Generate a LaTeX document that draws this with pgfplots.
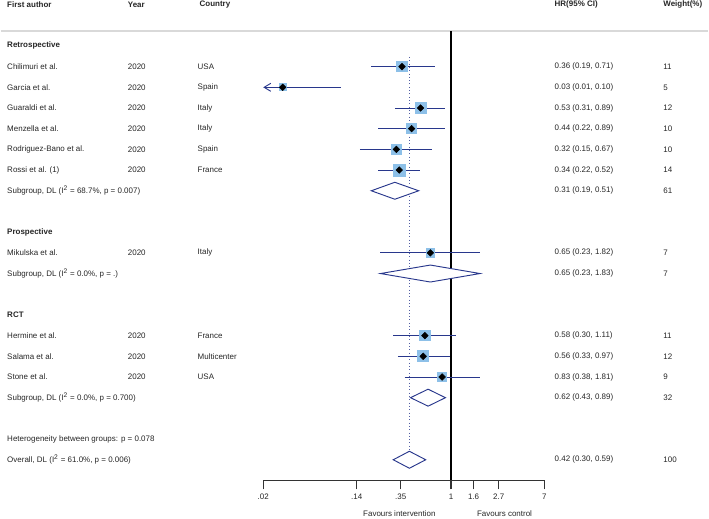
\documentclass[border=0pt]{standalone}
\usepackage{pgfplots}
\pgfplotsset{compat=1.18}
\usepackage{pgfplotstable}
\usepackage{fontspec}
\setmainfont{Liberation Sans}
\usetikzlibrary{arrows.meta}
\definecolor{navy}{RGB}{40,55,140}
\definecolor{sqblue}{RGB}{141,192,232}
\newcommand{\tf}{\fontsize{6}{7.2}\selectfont}
\newcommand{\T}[3]{\node[anchor=west,inner sep=0pt,font=\tf,text=black!85] at ({rel axis cs:#1,0}|-{axis cs:1,#2}) {#3};}

% study rows: y = row index (bottom = 1), hr, lower, upper, weight
\pgfplotstableread{
y  hr   lo   hi   w
20 0.36 0.19 0.71 11
19 0.03 0.01 0.10 5
18 0.53 0.31 0.89 12
17 0.44 0.22 0.89 10
16 0.32 0.15 0.67 10
15 0.34 0.22 0.52 14
11 0.65 0.23 1.82 7
7  0.58 0.30 1.11 11
6  0.56 0.33 0.97 12
5  0.83 0.38 1.81 9
}\studies

\begin{document}
\begin{tikzpicture}
\begin{axis}[
  scale only axis, width=211.5pt, height=361.05pt,
  xmode=log, xmin=0.02, xmax=7,
  ymin=0, ymax=23.2,
  axis x line*=bottom, axis y line=none,
  x axis line style={-, line width=0.9pt, black!80},
  xtick={0.02,0.14,0.35,1,1.6,2.7,7},
  xticklabels={{.02},{.14},{.35},{1},{1.6},{2.7},{7}},
  minor xtick={},
  tick align=outside, major tick length=6.75pt,
  tick style={line width=0.9pt, black!80},
  xticklabel style={font=\tf, text=black!85},
  /pgf/number format/assume math mode=true,
  clip=false,
]
% bounding box
\path ({rel axis cs:-0.9326,0}|-{axis cs:1,23.22}) rectangle ({rel axis cs:1.5816,0}|-{axis cs:1,-1.843});
% header rule
\draw[black!15, line width=1.5pt] ({rel axis cs:-0.9326,0}|-{axis cs:1,21.74}) -- ({rel axis cs:1.5816,0}|-{axis cs:1,21.74});

% null line and overall effect line
\addplot[black, line width=0.9pt] coordinates {(1,21.7) (1,0)};
\addplot[navy!80, dotted, line width=0.5pt] coordinates {(0.42,20.47) (0.42,0.57)};

% confidence intervals
\addplot[navy, line width=0.7pt] coordinates {(0.19,20) (0.71,20)};
\addplot[navy, line width=0.7pt, -{Straight Barb[length=5pt,width=6pt]}] coordinates {(0.10,19) (0.02,19)};
\addplot[navy, line width=0.7pt] coordinates {(0.31,18) (0.89,18)};
\addplot[navy, line width=0.7pt] coordinates {(0.22,17) (0.89,17)};
\addplot[navy, line width=0.7pt] coordinates {(0.15,16) (0.67,16)};
\addplot[navy, line width=0.7pt] coordinates {(0.22,15) (0.52,15)};
\addplot[navy, line width=0.7pt] coordinates {(0.23,11) (1.82,11)};
\addplot[navy, line width=0.7pt] coordinates {(0.30,7) (1.11,7)};
\addplot[navy, line width=0.7pt] coordinates {(0.33,6) (0.97,6)};
\addplot[navy, line width=0.7pt] coordinates {(0.38,5) (1.81,5)};

% weight squares (side proportional to sqrt(weight))
\pgfplotsset{sq/.style={only marks, mark=square*, mark options={draw=sqblue, fill=sqblue, line width=0pt}}}
\addplot[sq, mark size=3.98pt] coordinates {(0.36,20)};
\addplot[sq, mark size=2.68pt] coordinates {(0.03,19)};
\addplot[sq, mark size=4.16pt] coordinates {(0.53,18)};
\addplot[sq, mark size=3.79pt] coordinates {(0.44,17)};
\addplot[sq, mark size=3.79pt] coordinates {(0.32,16)};
\addplot[sq, mark size=4.49pt] coordinates {(0.34,15)};
\addplot[sq, mark size=3.17pt] coordinates {(0.65,11)};
\addplot[sq, mark size=3.98pt] coordinates {(0.58,7)};
\addplot[sq, mark size=4.16pt] coordinates {(0.56,6)};
\addplot[sq, mark size=3.60pt] coordinates {(0.83,5)};
% point estimates
\addplot[only marks, mark=square*, mark size=1.75pt, mark options={rotate=45, draw=black, fill=black}] table[x=hr, y=y] {\studies};

% pooled diamonds
\addplot[navy, line width=0.7pt, fill=white] coordinates {(0.19,14) (0.31,14.41) (0.51,14) (0.31,13.59)} -- cycle;
\addplot[navy, line width=0.7pt, fill=white] coordinates {(0.23,10) (0.65,10.41) (1.83,10) (0.65,9.59)} -- cycle;
\addplot[navy, line width=0.7pt, fill=white] coordinates {(0.43,4) (0.62,4.41) (0.89,4) (0.62,3.59)} -- cycle;
\addplot[navy, line width=0.7pt, fill=white] coordinates {(0.30,1) (0.42,1.41) (0.59,1) (0.42,0.59)} -- cycle;

% headers
\T{-0.9113}{23}{\bfseries First author}
\T{-0.4823}{23}{\bfseries Year}
\T{-0.2270}{23}{\bfseries Country}
\T{1.0355}{23}{\bfseries HR(95\% CI)}
\T{1.4220}{23}{\bfseries Weight(\%)}

% group labels
\T{-0.9113}{21}{\bfseries Retrospective}
\T{-0.9113}{12}{\bfseries Prospective}
\T{-0.9113}{8}{\bfseries RCT}

% study rows
\T{-0.9113}{20}{Chilimuri et al.}      \T{-0.4823}{20}{2020} \T{-0.2340}{20}{USA}         \T{1.0355}{20}{0.36 (0.19, 0.71)} \T{1.4220}{20}{11}
\T{-0.9113}{19}{Garcia et al.}         \T{-0.4823}{19}{2020} \T{-0.2340}{19}{Spain}       \T{1.0355}{19}{0.03 (0.01, 0.10)} \T{1.4220}{19}{5}
\T{-0.9113}{18}{Guaraldi et al.}       \T{-0.4823}{18}{2020} \T{-0.2340}{18}{Italy}       \T{1.0355}{18}{0.53 (0.31, 0.89)} \T{1.4220}{18}{12}
\T{-0.9113}{17}{Menzella et al.}       \T{-0.4823}{17}{2020} \T{-0.2340}{17}{Italy}       \T{1.0355}{17}{0.44 (0.22, 0.89)} \T{1.4220}{17}{10}
\T{-0.9113}{16}{Rodriguez-Bano et al.} \T{-0.4823}{16}{2020} \T{-0.2340}{16}{Spain}       \T{1.0355}{16}{0.32 (0.15, 0.67)} \T{1.4220}{16}{10}
\T{-0.9113}{15}{Rossi et al. (1)}      \T{-0.4823}{15}{2020} \T{-0.2340}{15}{France}      \T{1.0355}{15}{0.34 (0.22, 0.52)} \T{1.4220}{15}{14}
\T{-0.9113}{14}{Subgroup, DL (I\textsuperscript{2} = 68.7\%, p = 0.007)} \T{1.0355}{14}{0.31 (0.19, 0.51)} \T{1.4220}{14}{61}

\T{-0.9113}{11}{Mikulska et al.}       \T{-0.4823}{11}{2020} \T{-0.2340}{11}{Italy}       \T{1.0355}{11}{0.65 (0.23, 1.82)} \T{1.4220}{11}{7}
\T{-0.9113}{10}{Subgroup, DL (I\textsuperscript{2} = 0.0\%, p = .)} \T{1.0355}{10}{0.65 (0.23, 1.83)} \T{1.4220}{10}{7}

\T{-0.9113}{7}{Hermine et al.}         \T{-0.4823}{7}{2020}  \T{-0.2340}{7}{France}       \T{1.0355}{7}{0.58 (0.30, 1.11)}  \T{1.4220}{7}{11}
\T{-0.9113}{6}{Salama et al.}          \T{-0.4823}{6}{2020}  \T{-0.2340}{6}{Multicenter}  \T{1.0355}{6}{0.56 (0.33, 0.97)}  \T{1.4220}{6}{12}
\T{-0.9113}{5}{Stone et al.}           \T{-0.4823}{5}{2020}  \T{-0.2340}{5}{USA}          \T{1.0355}{5}{0.83 (0.38, 1.81)}  \T{1.4220}{5}{9}
\T{-0.9113}{4}{Subgroup, DL (I\textsuperscript{2} = 0.0\%, p = 0.700)} \T{1.0355}{4}{0.62 (0.43, 0.89)} \T{1.4220}{4}{32}

\T{-0.9113}{2}{Heterogeneity between groups: p = 0.078}
\T{-0.9113}{1}{Overall, DL (I\textsuperscript{2} = 61.0\%, p = 0.006)} \T{1.0355}{1}{0.42 (0.30, 0.59)} \T{1.4220}{1}{100}

% favours labels
\node[inner sep=0pt,font=\tf,text=black!85] at ({rel axis cs:0.484,0}|-{axis cs:1,-1.627}) {Favours intervention};
\node[inner sep=0pt,font=\tf,text=black!85] at ({rel axis cs:0.858,0}|-{axis cs:1,-1.627}) {Favours control};
\end{axis}
\end{tikzpicture}
\end{document}
